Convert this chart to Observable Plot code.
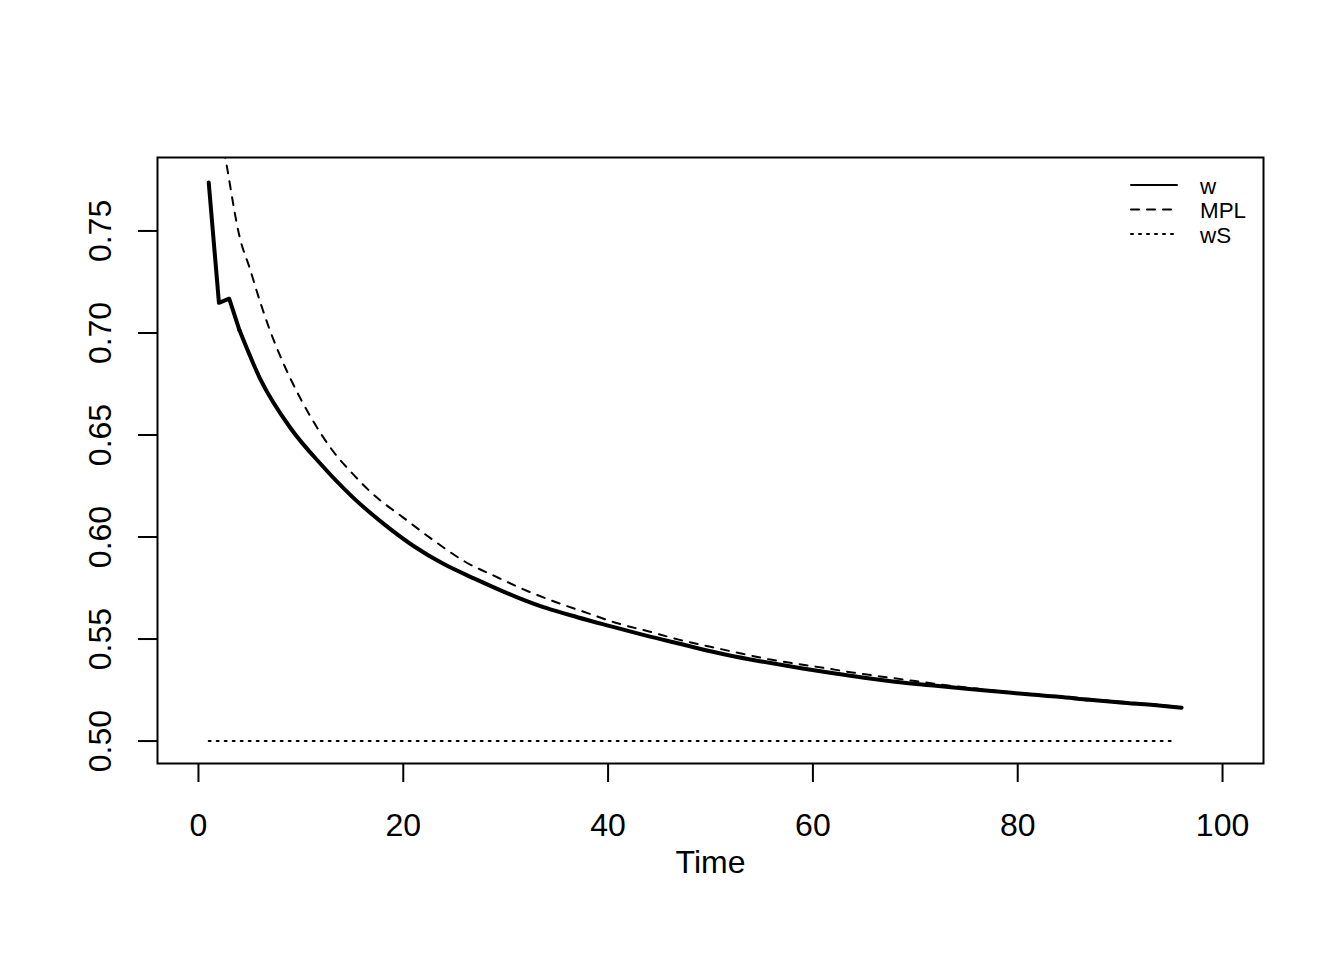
<!DOCTYPE html>
<html><head><meta charset="utf-8">
<script src="https://cdn.jsdelivr.net/npm/d3@7"></script>
<script src="https://cdn.jsdelivr.net/npm/@observablehq/plot@0.6"></script>
<style>body{margin:0;background:#fff;} svg{display:block;}</style>
</head><body><div id="chart"></div>
<script>
// Series
const wTime  = [1, 2, 3, 4, 6, 9, 12, 15, 18, 21, 24, 27, 31, 34, 37, 40, 44, 47, 50, 52, 55, 59, 62, 65, 68, 72, 75, 78, 81, 84, 87, 90, 94, 96];
const wValue = [0.7738, 0.7148, 0.7168, 0.7014, 0.6778, 0.6533, 0.6354, 0.6198, 0.6068, 0.5956, 0.5866, 0.5795, 0.5707, 0.5651, 0.5607, 0.5566, 0.5513, 0.5477, 0.5440, 0.5418, 0.5390, 0.5356, 0.5332, 0.5310, 0.5291, 0.5271, 0.5256, 0.5243, 0.5229, 0.5217, 0.5202, 0.5189, 0.5173, 0.5163];

const mplTime  = [1, 2, 3, 4, 5, 6, 7, 8, 10, 11, 13, 15, 17, 20, 23, 26, 29, 32, 35, 38, 41, 44, 47, 50, 53, 56, 58, 61, 64, 67, 70, 73, 76, 80, 84, 88, 92, 96];
const mplValue = [0.860, 0.808, 0.775, 0.7475, 0.7318, 0.7156, 0.7010, 0.6885, 0.6675, 0.6585, 0.6430, 0.6313, 0.6212, 0.6095, 0.5982, 0.5880, 0.5807, 0.5738, 0.5679, 0.5627, 0.5576, 0.5537, 0.5496, 0.5462, 0.5429, 0.5398, 0.5382, 0.5359, 0.5335, 0.5314, 0.5294, 0.5274, 0.5257, 0.5236, 0.5220, 0.5202, 0.5185, 0.5166];

const wsTime  = [1, 95];
const wsValue = [0.5, 0.5];

const xTicks = [0, 20, 40, 60, 80, 100];
const xTickLabels = ["0", "20", "40", "60", "80", "100"];
const yTicks = [0.50, 0.55, 0.60, 0.65, 0.70, 0.75];
const yTickLabels = ["0.50", "0.55", "0.60", "0.65", "0.70", "0.75"];
const xLabel = "Time";
const legendLabels = ["w", "MPL", "wS"];

const toRows = (ts, vs) => ts.map((t, i) => ({t, v: vs[i]}));
const wData = toRows(wTime, wValue);
const wEarly = wData.filter(d => d.t <= 4);
const wLate = wData.filter(d => d.t >= 4);
const mplData = toRows(mplTime, mplValue);
const wsData = toRows(wsTime, wsValue);

const font = "'Liberation Sans', Arial, Helvetica, sans-serif";
const wStyle = {x: "t", y: "v", stroke: "black", strokeWidth: 4, strokeLinecap: "round", strokeLinejoin: "round", clip: true};

const chart = Plot.plot({
  width: 1344, height: 960,
  marginLeft: 157, marginRight: 81, marginTop: 157, marginBottom: 197,
  style: {fontFamily: font, background: "white", color: "black", overflow: "visible"},
  x: {domain: [-4, 104], axis: null},
  y: {domain: [0.489, 0.786], axis: null},
  marks: [
    Plot.line(wsData, {x: "t", y: "v", stroke: "black", strokeWidth: 2, strokeDasharray: "2,6", strokeLinecap: "round"}),
    Plot.line(mplData, {x: "t", y: "v", curve: "monotone-x", stroke: "black", strokeWidth: 2, strokeDasharray: "8,8", strokeLinecap: "round", clip: true}),
    Plot.line(wEarly, wStyle),
    Plot.line(wLate, {...wStyle, curve: "monotone-x"}),
    Plot.frame({stroke: "black", strokeWidth: 2}),
    Plot.axisX({ticks: xTicks, tickSize: 19, tickPadding: 31, fontSize: 32, strokeWidth: 2,
      tickFormat: (d) => xTickLabels[xTicks.indexOf(d)], label: null}),
    Plot.axisY({ticks: yTicks, tickSize: 19, tickPadding: 28, tickRotate: -90, textAnchor: "middle", lineAnchor: "bottom",
      fontSize: 32, strokeWidth: 2, tickFormat: (d) => yTickLabels[yTicks.findIndex(y => Math.abs(y - d) < 1e-9)], label: null}),
    Plot.text([xLabel], {frameAnchor: "bottom", dy: 109, lineAnchor: "bottom", fontSize: 32, fill: "black"})
  ]
});

// Legend (no box), top-right inside plot region
const svg = d3.select(chart);
const legendDash = [null, "8,8", "2,6"];
const lg = svg.append("g").attr("font-family", font).attr("font-size", 22.4).attr("text-anchor", "start");
legendLabels.forEach((lab, i) => {
  const y = 185 + i * 24.5;
  const ln = lg.append("line").attr("x1", 1131).attr("x2", 1177).attr("y1", y).attr("y2", y)
    .attr("stroke", "black").attr("stroke-width", 2).attr("stroke-linecap", "round");
  if (legendDash[i]) ln.attr("stroke-dasharray", legendDash[i]);
  lg.append("text").attr("x", 1200).attr("y", y + 8.5).attr("fill", "black").attr("text-anchor", "start").text(lab);
});

document.getElementById("chart").appendChild(chart);
</script>
</body></html>
